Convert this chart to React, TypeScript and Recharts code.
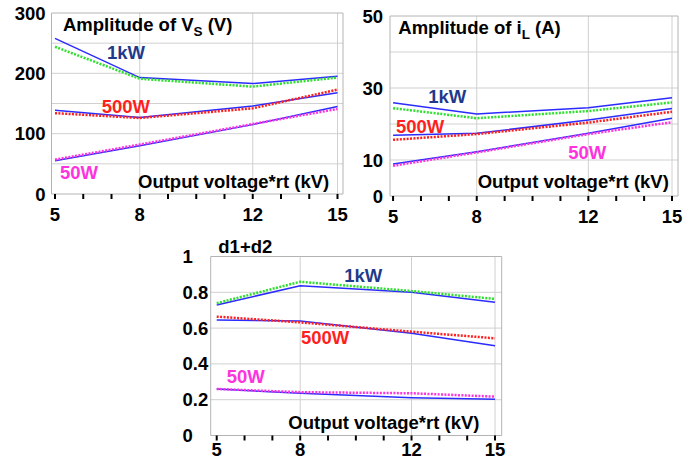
import React from 'react';
import { LineChart, Line, XAxis, YAxis, CartesianGrid, ReferenceArea } from 'recharts';

const FONT = '"Liberation Sans", Arial, Helvetica, sans-serif';

// categories (Output voltage*rt, kV)
const xValues = [5, 8, 12, 15];
const xTicks = [5, 6, 7, 8, 9, 10, 11, 12, 13, 14, 15];
const xLabelTicks = [5, 8, 12, 15];
const xGridValues = [8, 12, 15];

// Amplitude of Vs (V)
const vs1kWA = [258, 193, 183, 195];
const vs1kWB = [244, 191, 178, 193];
const vs500WA = [139, 127, 146, 168];
const vs500WB = [134, 126, 142, 173];
const vs50WA = [55, 80, 115, 145];
const vs50WB = [57, 82, 116, 141];
const vsTicks = [0, 100, 200, 300];
const vsGrid = [50, 100, 150, 200, 250];

// Amplitude of iL (A)
const il1kWA = [25.9, 22.8, 24.5, 27.3];
const il1kWB = [24.4, 21.6, 23.6, 26.0];
const il500WA = [16.9, 17.4, 21.1, 24.3];
const il500WB = [15.6, 17.2, 20.4, 23.4];
const il50WA = [8.9, 12.3, 17.4, 21.6];
const il50WB = [8.4, 12.1, 17.2, 20.5];
const ilTicks = [0, 10, 30, 50];
const ilGrid = [10, 20, 30, 40];

// d1+d2
const d1kWA = [0.729, 0.837, 0.8, 0.744];
const d1kWB = [0.739, 0.859, 0.807, 0.763];
const d500WA = [0.645, 0.64, 0.571, 0.502];
const d500WB = [0.664, 0.632, 0.58, 0.543];
const d50WA = [0.26, 0.236, 0.211, 0.202];
const d50WB = [0.26, 0.242, 0.236, 0.217];
const dTicks = [0, 0.2, 0.4, 0.6, 0.8, 1];
const dGrid = [0.2, 0.4, 0.6, 0.8];

const buildRows = (s: number[][]) =>
  xValues.map((x, i) => ({ x, a1: s[0][i], b1: s[1][i], a2: s[2][i], b2: s[3][i], a3: s[4][i], b3: s[5][i] }));

const BLUE = '#2b2bff';
const GREEN = '#2fe02f';
const RED = '#ff1f1f';
const MAGENTA = '#ff33dd';
const NAVY = '#1f3a8c';
const DOT = '2 1.4';

type PanelProps = {
  left: number; top: number; width: number; height: number;
  plotTop: number; plotRight: number; yAxisWidth: number; xAxisHeight: number;
  xDomain: [number, number]; yDomain: [number, number];
  yTicks: number[]; yGrid: number[];
  yAnchor: 'start' | 'end'; yTickMargin: number; xTickMargin: number;
  rows: any[];
};

const tickStyle = { fill: '#000', fontSize: 18.5, fontWeight: 'bold', fontFamily: FONT };

function Panel(p: PanelProps) {
  return (
    <div style={{ position: 'absolute', left: p.left, top: p.top }}>
      <LineChart
        width={p.width}
        height={p.height}
        data={p.rows}
        margin={{ top: p.plotTop, right: p.plotRight, bottom: 0, left: 0 }}
      >
        <CartesianGrid stroke="#d0d0d0" horizontalValues={p.yGrid} verticalValues={xGridValues} />
        <ReferenceArea
          x1={p.xDomain[0]} x2={p.xDomain[1]} y1={p.yDomain[0]} y2={p.yDomain[1]}
          fill="none" fillOpacity={0} stroke="#b4b4b4" strokeWidth={1}
        />
        <XAxis
          type="number" dataKey="x" domain={p.xDomain} allowDataOverflow
          ticks={xTicks} interval={0}
          tickFormatter={(v: number) => (xLabelTicks.includes(v) ? String(v) : '')}
          axisLine={false} tickLine={{ stroke: '#000', strokeWidth: 2 }}
          tickSize={5} tickMargin={p.xTickMargin} height={p.xAxisHeight}
          tick={tickStyle}
        />
        <YAxis
          type="number" domain={p.yDomain} allowDataOverflow ticks={p.yTicks} interval={0}
          axisLine={false} tickLine={false} tickSize={0} tickMargin={p.yTickMargin}
          width={p.yAxisWidth}
          tick={{ ...tickStyle, textAnchor: p.yAnchor }}
        />
        <Line type="linear" dataKey="a1" stroke={BLUE} strokeWidth={1.5} dot={false} isAnimationActive={false} />
        <Line type="linear" dataKey="a2" stroke={BLUE} strokeWidth={1.5} dot={false} isAnimationActive={false} />
        <Line type="linear" dataKey="a3" stroke={BLUE} strokeWidth={1.5} dot={false} isAnimationActive={false} />
        <Line type="linear" dataKey="b1" stroke={GREEN} strokeWidth={2.5} strokeDasharray={DOT} dot={false} isAnimationActive={false} />
        <Line type="linear" dataKey="b2" stroke={RED} strokeWidth={2.5} strokeDasharray={DOT} dot={false} isAnimationActive={false} />
        <Line type="linear" dataKey="b3" stroke={MAGENTA} strokeWidth={2.5} strokeDasharray={DOT} dot={false} isAnimationActive={false} />
      </LineChart>
    </div>
  );
}

function Label({ x, y, color, children }: { x: number; y: number; color: string; children: React.ReactNode }) {
  return (
    <div
      style={{
        position: 'absolute', left: x, top: y, color, fontFamily: FONT, fontWeight: 'bold',
        fontSize: 18.5, lineHeight: 1, whiteSpace: 'nowrap', zIndex: 5,
      }}
    >
      {children}
    </div>
  );
}

const sub = { fontSize: 13.5, position: 'relative' as const, top: 5 };

export default function App() {
  return (
    <div style={{ position: 'absolute', left: 0, top: 0, width: 696, height: 463, background: '#fff', overflow: 'hidden' }}>
      <Panel
        left={0} top={0} width={350} height={230}
        plotTop={13} plotRight={7} yAxisWidth={51.5} xAxisHeight={36}
        xDomain={[4.876, 15.195]} yDomain={[0, 300]}
        yTicks={vsTicks} yGrid={vsGrid} yAnchor="end" yTickMargin={6} xTickMargin={9}
        rows={buildRows([vs1kWA, vs1kWB, vs500WA, vs500WB, vs50WA, vs50WB])}
      />
      <Panel
        left={340} top={0} width={356} height={230}
        plotTop={16} plotRight={18} yAxisWidth={50} xAxisHeight={34}
        xDomain={[4.89, 15.215]} yDomain={[0, 50]}
        yTicks={ilTicks} yGrid={ilGrid} yAnchor="end" yTickMargin={7} xTickMargin={9}
        rows={buildRows([il1kWA, il1kWB, il500WA, il500WB, il50WA, il50WB])}
      />
      <Panel
        left={160} top={235} width={350} height={228}
        plotTop={21.5} plotRight={8.3} yAxisWidth={50.7} xAxisHeight={27.5}
        xDomain={[4.784, 15.24]} yDomain={[0, 1]}
        yTicks={dTicks} yGrid={dGrid} yAnchor="start" yTickMargin={28.2} xTickMargin={2}
        rows={buildRows([d1kWA, d1kWB, d500WA, d500WB, d50WA, d50WB])}
      />

      <Label x={63} y={16} color="#000">Amplitude of V<span style={sub}>S</span> (V)</Label>
      <Label x={107} y={44.3} color={NAVY}>1kW</Label>
      <Label x={101.7} y={97.6} color={RED}>500W</Label>
      <Label x={60} y={164.3} color={MAGENTA}>50W</Label>
      <Label x={138} y={172.6} color="#000">Output voltage*rt (kV)</Label>

      <Label x={398.3} y={19.3} color="#000">Amplitude of i<span style={sub}>L</span> (A)</Label>
      <Label x={428.3} y={87.6} color={NAVY}>1kW</Label>
      <Label x={396} y={117.6} color={RED}>500W</Label>
      <Label x={568.3} y={143.6} color={MAGENTA}>50W</Label>
      <Label x={477.7} y={172.6} color="#000">Output voltage*rt (kV)</Label>

      <Label x={218.3} y={237.6} color="#000">d1+d2</Label>
      <Label x={344.3} y={266.6} color={NAVY}>1kW</Label>
      <Label x={301} y={329.3} color={RED}>500W</Label>
      <Label x={226.7} y={367.6} color={MAGENTA}>50W</Label>
      <Label x={288.3} y={414.3} color="#000">Output voltage*rt (kV)</Label>
    </div>
  );
}
